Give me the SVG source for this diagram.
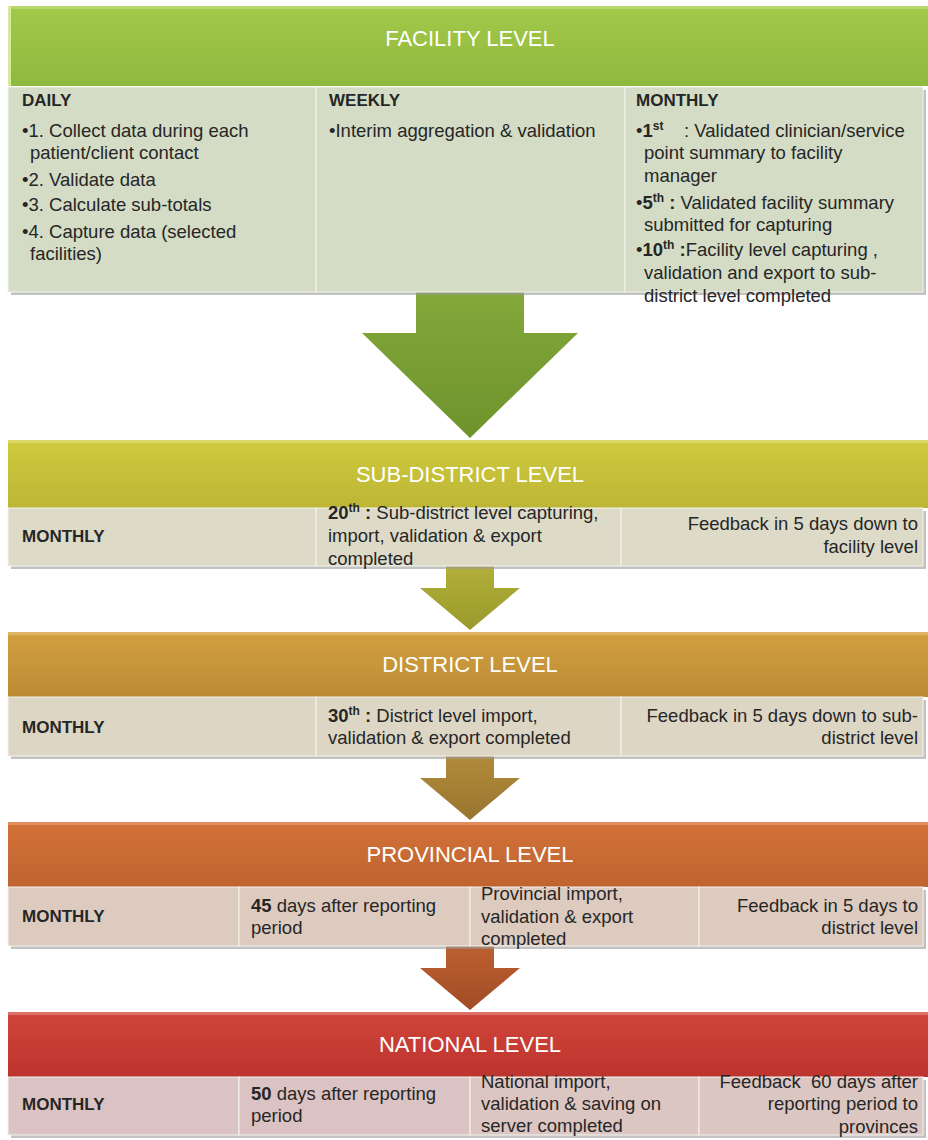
<svg xmlns="http://www.w3.org/2000/svg" width="928" height="1140" viewBox="0 0 928 1140">
<defs>
<linearGradient id="gFac" x1="0" y1="0" x2="0" y2="1"><stop offset="0" stop-color="#a3c94a"/><stop offset="1" stop-color="#8fb83e"/></linearGradient>
<linearGradient id="gSub" x1="0" y1="0" x2="0" y2="1"><stop offset="0" stop-color="#cfca3e"/><stop offset="1" stop-color="#bdb535"/></linearGradient>
<linearGradient id="gDis" x1="0" y1="0" x2="0" y2="1"><stop offset="0" stop-color="#d2a040"/><stop offset="1" stop-color="#bc8a34"/></linearGradient>
<linearGradient id="gPro" x1="0" y1="0" x2="0" y2="1"><stop offset="0" stop-color="#d27238"/><stop offset="1" stop-color="#bf6330"/></linearGradient>
<linearGradient id="gNat" x1="0" y1="0" x2="0" y2="1"><stop offset="0" stop-color="#d0453a"/><stop offset="1" stop-color="#bd342e"/></linearGradient>
<linearGradient id="aFac" x1="0" y1="0" x2="0" y2="1"><stop offset="0" stop-color="#84a83a"/><stop offset="1" stop-color="#6e932c"/></linearGradient>
<linearGradient id="aSub" x1="0" y1="0" x2="0" y2="1"><stop offset="0" stop-color="#b2b03a"/><stop offset="1" stop-color="#999a2c"/></linearGradient>
<linearGradient id="aDis" x1="0" y1="0" x2="0" y2="1"><stop offset="0" stop-color="#b28c3a"/><stop offset="1" stop-color="#987530"/></linearGradient>
<linearGradient id="aPro" x1="0" y1="0" x2="0" y2="1"><stop offset="0" stop-color="#bd6030"/><stop offset="1" stop-color="#a14c26"/></linearGradient>
</defs>
<style>
.hdr{font-family:"Liberation Sans",Arial,sans-serif;font-size:22px;fill:#ffffff;text-anchor:middle}
.t{font-family:"Liberation Sans",Arial,sans-serif;font-size:18.5px;fill:#262626}
.b{font-weight:bold}
.m{font-size:17px}
.r{text-anchor:end}
.sh{fill:#9a9a9a;opacity:0.6}
.cell{stroke:#f4f4ee;stroke-width:1}
.sup{font-size:12px}
</style>

<g id="connectors">
<polygon points="416,290 524,290 524,333 578,333 470,438 362,333 416,333" fill="url(#aFac)"/>
<polygon points="446,564 494,564 494,588 520,588 470,630 420,588 446,588" fill="url(#aSub)"/>
<polygon points="446,754 494,754 494,778 520,778 470,820 420,778 446,778" fill="url(#aDis)"/>
<polygon points="446,944 494,944 494,968 520,968 470,1010 420,968 446,968" fill="url(#aPro)"/>
</g>

<g id="facility">
<rect x="8" y="6" width="920" height="80" fill="url(#gFac)"/>
<rect x="8" y="6" width="920" height="3" fill="#b7d76a"/>
<rect x="8" y="6" width="3" height="80" fill="#d6ea9a"/>
<text class="hdr" x="470" y="46">FACILITY LEVEL</text>
<rect class="sh" x="11" y="90" width="915" height="205"/>
<rect class="cell" x="8" y="87" width="308" height="205" fill="#d4dcc5"/>
<rect class="cell" x="316" y="87" width="309" height="205" fill="#d4dcc5"/>
<rect class="cell" x="625" y="87" width="298" height="205" fill="#d4dcc5"/>
<text class="t b m" x="22" y="106">DAILY</text>
<text class="t" x="22" y="137">•1. Collect data during each</text>
<text class="t" x="30" y="159">patient/client contact</text>
<text class="t" x="22" y="186">•2. Validate data</text>
<text class="t" x="22" y="211">•3. Calculate sub-totals</text>
<text class="t" x="22" y="238">•4. Capture data (selected</text>
<text class="t" x="30" y="260">facilities)</text>
<text class="t b m" x="329" y="106">WEEKLY</text>
<text class="t" x="329" y="137">•Interim aggregation &amp; validation</text>
<text class="t b m" x="636" y="106">MONTHLY</text>
<text class="t" x="636" y="137">•<tspan class="b">1</tspan><tspan class="b sup" dy="-7">st</tspan><tspan dy="7" xml:space="preserve">    : Validated clinician/service</tspan></text>
<text class="t" x="644" y="159">point summary to facility</text>
<text class="t" x="644" y="182">manager</text>
<text class="t" x="636" y="209">•<tspan class="b">5</tspan><tspan class="b sup" dy="-7">th</tspan><tspan dy="7"> <tspan class="b">:</tspan> Validated facility summary</tspan></text>
<text class="t" x="644" y="231">submitted for capturing</text>
<text class="t" x="636" y="256">•<tspan class="b">10</tspan><tspan class="b sup" dy="-7">th</tspan><tspan dy="7"> <tspan class="b">:</tspan>Facility level capturing ,</tspan></text>
<text class="t" x="644" y="279">validation and export to sub-</text>
<text class="t" x="644" y="302">district level completed</text>
</g>

<g id="subdistrict">
<rect x="8" y="440" width="920" height="68" fill="url(#gSub)"/>
<rect x="8" y="440" width="920" height="3" fill="#dcd86a"/>
<text class="hdr" x="470" y="482">SUB-DISTRICT LEVEL</text>
<rect class="sh" x="11" y="511" width="915" height="58"/>
<rect class="cell" x="8" y="508" width="308" height="58" fill="#dddbc8"/>
<rect class="cell" x="316" y="508" width="305" height="58" fill="#dddbc8"/>
<rect class="cell" x="621" y="508" width="302" height="58" fill="#dddbc8"/>
<text class="t b m" x="22" y="542">MONTHLY</text>
<text class="t" x="328" y="519"><tspan class="b">20</tspan><tspan class="b sup" dy="-7">th</tspan><tspan dy="7"> <tspan class="b">:</tspan> Sub-district  level capturing,</tspan></text>
<text class="t" x="328" y="542">import, validation &amp; export</text>
<text class="t" x="328" y="565">completed</text>
<text class="t r" x="918" y="530">Feedback in 5 days down to</text>
<text class="t r" x="918" y="553">facility level</text>
</g>

<g id="district">
<rect x="8" y="632" width="920" height="65" fill="url(#gDis)"/>
<rect x="8" y="632" width="920" height="3" fill="#deb468"/>
<text class="hdr" x="470" y="672">DISTRICT LEVEL</text>
<rect class="sh" x="11" y="700" width="915" height="59"/>
<rect class="cell" x="8" y="697" width="308" height="59" fill="#ddd6c4"/>
<rect class="cell" x="316" y="697" width="305" height="59" fill="#ddd6c4"/>
<rect class="cell" x="621" y="697" width="302" height="59" fill="#ddd6c4"/>
<text class="t b m" x="22" y="733">MONTHLY</text>
<text class="t" x="328" y="722"><tspan class="b">30</tspan><tspan class="b sup" dy="-7">th</tspan><tspan dy="7"> <tspan class="b">:</tspan> District level  import,</tspan></text>
<text class="t" x="328" y="744">validation &amp; export completed</text>
<text class="t r" x="918" y="722">Feedback in 5 days down to sub-</text>
<text class="t r" x="918" y="744">district level</text>
</g>

<g id="provincial">
<rect x="8" y="822" width="920" height="65" fill="url(#gPro)"/>
<rect x="8" y="822" width="920" height="3" fill="#e08c5c"/>
<text class="hdr" x="470" y="862">PROVINCIAL LEVEL</text>
<rect class="sh" x="11" y="890" width="915" height="59"/>
<rect class="cell" x="8" y="887" width="231" height="59" fill="#decbc0"/>
<rect class="cell" x="239" y="887" width="231" height="59" fill="#decbc0"/>
<rect class="cell" x="470" y="887" width="229" height="59" fill="#decbc0"/>
<rect class="cell" x="699" y="887" width="224" height="59" fill="#decbc0"/>
<text class="t b m" x="22" y="922">MONTHLY</text>
<text class="t" x="251" y="912"><tspan class="b">45</tspan> days after reporting</text>
<text class="t" x="251" y="934">period</text>
<text class="t" x="481" y="900">Provincial import,</text>
<text class="t" x="481" y="923">validation &amp; export</text>
<text class="t" x="481" y="945">completed</text>
<text class="t r" x="918" y="912">Feedback in 5 days to</text>
<text class="t r" x="918" y="934">district level</text>
</g>

<g id="national">
<rect x="8" y="1012" width="920" height="65" fill="url(#gNat)"/>
<rect x="8" y="1012" width="920" height="3" fill="#dc7068"/>
<text class="hdr" x="470" y="1052">NATIONAL LEVEL</text>
<rect class="sh" x="11" y="1080" width="915" height="58"/>
<rect class="cell" x="8" y="1077" width="231" height="58" fill="#dcc3c3"/>
<rect class="cell" x="239" y="1077" width="231" height="58" fill="#dcc3c3"/>
<rect class="cell" x="470" y="1077" width="229" height="58" fill="#dcc6c2"/>
<rect class="cell" x="699" y="1077" width="224" height="58" fill="#dcc6c2"/>
<text class="t b m" x="22" y="1110">MONTHLY</text>
<text class="t" x="251" y="1100"><tspan class="b">50</tspan> days after reporting</text>
<text class="t" x="251" y="1122">period</text>
<text class="t" x="481" y="1088">National import,</text>
<text class="t" x="481" y="1110">validation &amp; saving on</text>
<text class="t" x="481" y="1132">server completed</text>
<text class="t r" x="918" y="1088" xml:space="preserve">Feedback  60 days after</text>
<text class="t r" x="918" y="1110">reporting period to</text>
<text class="t r" x="918" y="1133">provinces</text>
</g>
</svg>
